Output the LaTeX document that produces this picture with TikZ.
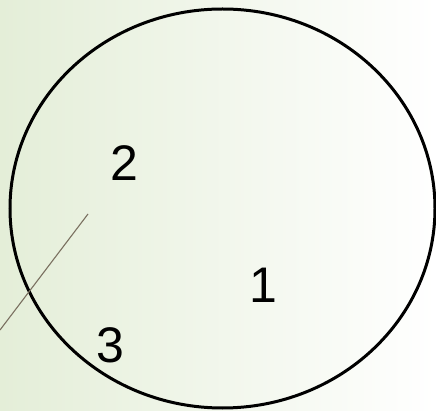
\documentclass[tikz,border=0pt]{standalone}
\usepackage{fontspec}
\setmainfont{Liberation Sans}
\begin{document}
\begin{tikzpicture}[x=1pt,y=-1pt,
  lbl/.style={font=\fontsize{50}{50}\selectfont, inner sep=0pt, text=black},
  ring/.style={draw=black, line width=3pt},
  thin/.style={draw={rgb,255:red,122;green,112;blue,96}, line width=1.1pt}]
\useasboundingbox (0,0) rectangle (436,411);
\clip (0,0) rectangle (436,411);
\shade[left color={rgb,255:red,228;green,238;blue,216}, right color=white] (0,0) rectangle (436,411);
\draw[ring] (222.5,208.5) ellipse [x radius=212.5, y radius=199.5];
\coordinate (a) at (88,214);
\coordinate (b) at (0,330);
\draw[thin] (a) -- (b);
\node[lbl] (n2) at (124.5,163.5) {2};
\node[lbl] (n1) at (263,285) {1};
\node[lbl] (n3) at (110.5,345.5) {3};
\end{tikzpicture}
\end{document}
